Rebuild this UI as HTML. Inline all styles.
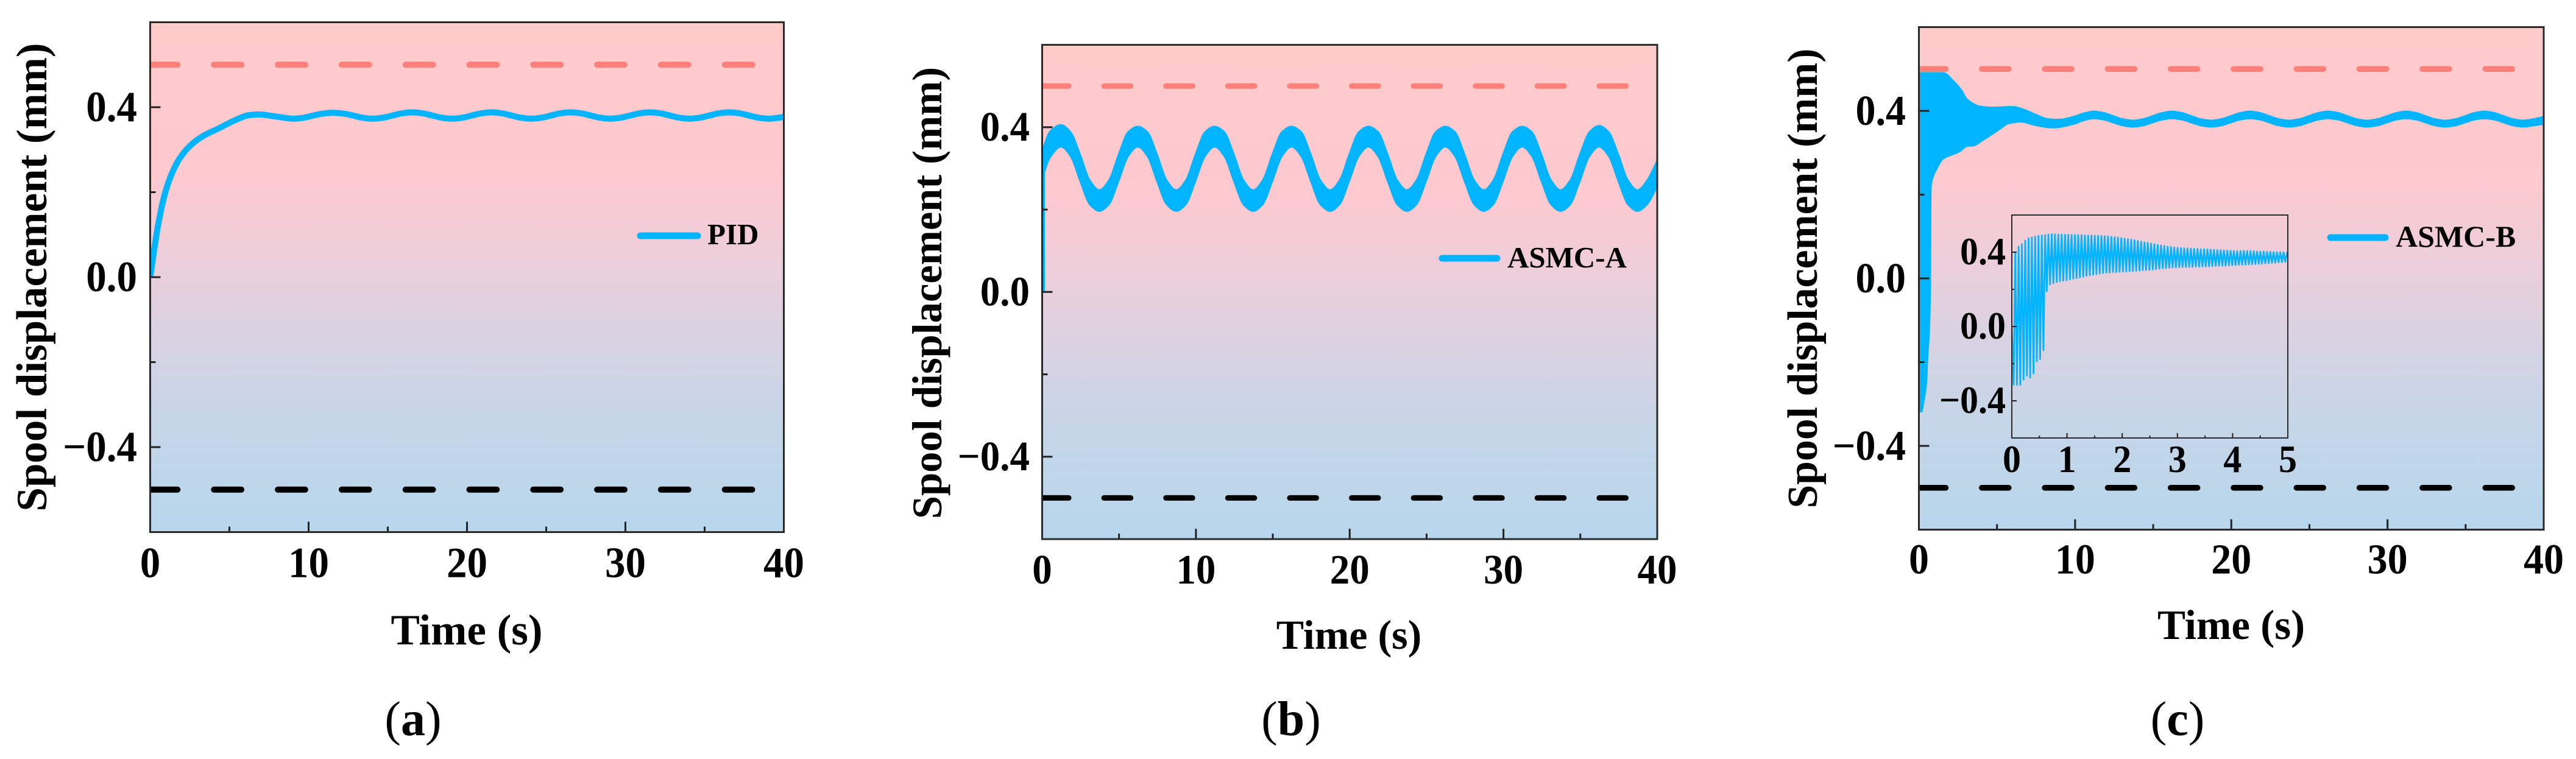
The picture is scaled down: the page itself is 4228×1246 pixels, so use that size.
<!DOCTYPE html>
<html lang="en">
<head>
<meta charset="utf-8">
<title>Spool displacement comparison</title>
<style>
html,body{margin:0;padding:0;background:#fff;}
svg{display:block;}
text{font-family:"Liberation Serif",serif;font-weight:bold;fill:#000;}
</style>
</head>
<body>
<svg id="figure" xmlns="http://www.w3.org/2000/svg" width="4228" height="1246" viewBox="0 0 4228 1246">
  <defs>
    <linearGradient id="plot-bg" x1="0" y1="0" x2="0" y2="1">
      <stop offset="0" stop-color="#ffcaca"/>
      <stop offset="0.3" stop-color="#fec9cf"/>
      <stop offset="0.5" stop-color="#e8cfdc"/>
      <stop offset="0.75" stop-color="#c8d5e7"/>
      <stop offset="1" stop-color="#b7d6ec"/>
    </linearGradient>
    <clipPath id="clip-a"><rect x="246.5" y="36.5" width="1040" height="837"/></clipPath>
    <clipPath id="clip-b"><rect x="1710.5" y="73.6" width="1009.5" height="811.4"/></clipPath>
    <clipPath id="clip-c"><rect x="3149.5" y="44.5" width="1025.5" height="825"/></clipPath>
    <clipPath id="clip-inset"><rect x="3302" y="353" width="453" height="366"/></clipPath>
  </defs>

  <g id="panel-a"></g>
  <g id="panel-b"></g>
  <g id="panel-c"></g>
  <g id="panel-inset"></g>

  <g>
    <text transform="translate(76,455) rotate(-90)" text-anchor="middle" font-size="71">Spool displacement (mm)</text>
    <text x="766" y="1058" text-anchor="middle" font-size="71">Time (s)</text>
    <line x1="1051" y1="387" x2="1145" y2="387" stroke="#00b4ff" stroke-width="11" stroke-linecap="round"/>
    <text x="1161" y="401" font-size="49">PID</text>
    <text x="678" y="1207" text-anchor="middle" font-size="80"><tspan font-weight="normal">(</tspan>a<tspan font-weight="normal">)</tspan></text>
  </g>
  <g>
    <text transform="translate(1545,481) rotate(-90)" text-anchor="middle" font-size="68.5">Spool displacement (mm)</text>
    <text x="2214" y="1065" text-anchor="middle" font-size="68">Time (s)</text>
    <line x1="2367" y1="424" x2="2457" y2="424" stroke="#00b4ff" stroke-width="11" stroke-linecap="round"/>
    <text x="2474" y="439" font-size="49">ASMC-A</text>
    <text x="2119" y="1207" text-anchor="middle" font-size="80"><tspan font-weight="normal">(</tspan>b<tspan font-weight="normal">)</tspan></text>
  </g>
  <g>
    <text transform="translate(2982,457) rotate(-90)" text-anchor="middle" font-size="69.7">Spool displacement (mm)</text>
    <text x="3662" y="1049" text-anchor="middle" font-size="69">Time (s)</text>
    <line x1="3825" y1="390" x2="3915" y2="390" stroke="#00b4ff" stroke-width="11" stroke-linecap="round"/>
    <text x="3932" y="405" font-size="50">ASMC-B</text>
    <text x="3574" y="1207" text-anchor="middle" font-size="80"><tspan font-weight="normal">(</tspan>c<tspan font-weight="normal">)</tspan></text>
  </g>
</svg>

<script>
// ---------- shared axis data ----------
const timeMajor = [0, 10, 20, 30, 40];
const timeLabels = ['0', '10', '20', '30', '40'];
const timeMinor = [5, 15, 25, 35];
const valueMajor = [-0.4, 0, 0.4];
const valueLabels = ['\u22120.4', '0.0', '0.4'];
const valueMinor = [-0.2, 0.2];
const insetTimeMajor = [0, 1, 2, 3, 4, 5];
const insetTimeLabels = ['0', '1', '2', '3', '4', '5'];
const insetTimeMinor = [0.5, 1.5, 2.5, 3.5, 4.5];
const upperLimit = [0.5];
const lowerLimit = [-0.5];

// ---------- panel (a) PID ----------
const pidTime = [0, 0.45, 0.84, 1.29, 1.87, 2.57, 3.33, 4.37, 5.39, 6.2, 6.87, 7.95,
  9.05, 9.675, 10.3, 10.925, 11.55, 12.175, 12.8, 13.425,
  14.05, 14.675, 15.3, 15.925, 16.55, 17.175, 17.8, 18.425,
  19.05, 19.675, 20.3, 20.925, 21.55, 22.175, 22.8, 23.425,
  24.05, 24.675, 25.3, 25.925, 26.55, 27.175, 27.8, 28.425,
  29.05, 29.675, 30.3, 30.925, 31.55, 32.175, 32.8, 33.425,
  34.05, 34.675, 35.3, 35.925, 36.55, 37.175, 37.8, 38.425,
  39.05, 39.675, 40];
const pidValue = [0, 0.112, 0.184, 0.237, 0.28, 0.311, 0.332, 0.351, 0.37, 0.381, 0.383, 0.378,
  0.373, 0.3752, 0.3805, 0.385, 0.387, 0.385, 0.3805, 0.3752,
  0.373, 0.3752, 0.3805, 0.3858, 0.388, 0.3858, 0.3805, 0.3752,
  0.373, 0.3752, 0.3805, 0.3858, 0.388, 0.3858, 0.3805, 0.3752,
  0.373, 0.3752, 0.3805, 0.3858, 0.388, 0.3858, 0.3805, 0.3752,
  0.373, 0.3752, 0.3805, 0.3858, 0.388, 0.3858, 0.3805, 0.3752,
  0.373, 0.3752, 0.3805, 0.3858, 0.388, 0.3858, 0.3805, 0.3752,
  0.373, 0.3752, 0.377];

// ---------- panel (b) ASMC-A: band of the fast oscillation ----------
const asmcAStart = [0, 0.29];
const asmcATime = [0.08, 0.5,
  1.22, 1.845, 2.47, 3.095, 3.72, 4.345, 4.97, 5.595,
  6.22, 6.845, 7.47, 8.095, 8.72, 9.345, 9.97, 10.595,
  11.22, 11.845, 12.47, 13.095, 13.72, 14.345, 14.97, 15.595,
  16.22, 16.845, 17.47, 18.095, 18.72, 19.345, 19.97, 20.595,
  21.22, 21.845, 22.47, 23.095, 23.72, 24.345, 24.97, 25.595,
  26.22, 26.845, 27.47, 28.095, 28.72, 29.345, 29.97, 30.595,
  31.22, 31.845, 32.47, 33.095, 33.72, 34.345, 34.97, 35.595,
  36.22, 36.845, 37.47, 38.095, 38.72, 39.345, 40];
const asmcAUpper = [0.352, 0.39,
  0.406, 0.389, 0.335, 0.272, 0.248, 0.272, 0.335, 0.389,
  0.402, 0.389, 0.335, 0.272, 0.248, 0.272, 0.335, 0.389,
  0.402, 0.389, 0.335, 0.272, 0.248, 0.272, 0.335, 0.389,
  0.402, 0.389, 0.335, 0.272, 0.248, 0.272, 0.335, 0.389,
  0.402, 0.389, 0.335, 0.272, 0.248, 0.272, 0.335, 0.389,
  0.402, 0.389, 0.335, 0.272, 0.248, 0.272, 0.335, 0.389,
  0.402, 0.389, 0.335, 0.272, 0.248, 0.272, 0.335, 0.389,
  0.404, 0.389, 0.335, 0.272, 0.248, 0.272, 0.32];
const asmcALower = [0.283, 0.325,
  0.352, 0.329, 0.268, 0.212, 0.196, 0.212, 0.268, 0.329,
  0.352, 0.329, 0.268, 0.212, 0.196, 0.212, 0.268, 0.329,
  0.352, 0.329, 0.268, 0.212, 0.196, 0.212, 0.268, 0.329,
  0.352, 0.329, 0.268, 0.212, 0.196, 0.212, 0.268, 0.329,
  0.352, 0.329, 0.268, 0.212, 0.196, 0.212, 0.268, 0.329,
  0.352, 0.329, 0.268, 0.212, 0.196, 0.212, 0.268, 0.329,
  0.352, 0.329, 0.268, 0.212, 0.196, 0.212, 0.268, 0.329,
  0.352, 0.329, 0.268, 0.212, 0.196, 0.212, 0.255];

// ---------- panel (c) ASMC-B: envelope ----------
const asmcBUpperTime = [0.03, 1.58, 2.23, 2.75, 3.14, 3.92, 4.7, 6.0, 6.65, 7.43, 8.33, 8.97, 9.9, 10.575,
  11.2, 11.825, 12.45, 13.075, 13.7, 14.325, 14.95, 15.575,
  16.2, 16.825, 17.45, 18.075, 18.7, 19.325, 19.95, 20.575,
  21.2, 21.825, 22.45, 23.075, 23.7, 24.325, 24.95, 25.575,
  26.2, 26.825, 27.45, 28.075, 28.7, 29.325, 29.95, 30.575,
  31.2, 31.825, 32.45, 33.075, 33.7, 34.325, 34.95, 35.575,
  36.2, 36.825, 37.45, 38.075, 38.7, 39.325, 40];
const asmcBUpper = [0.4926, 0.4926, 0.473, 0.451, 0.428, 0.4126, 0.41, 0.4116, 0.406, 0.394, 0.382, 0.381, 0.388, 0.3965,
  0.4005, 0.3973, 0.3897, 0.3821, 0.379, 0.3821, 0.3897, 0.3973,
  0.4005, 0.3973, 0.3897, 0.3821, 0.379, 0.3821, 0.3897, 0.3973,
  0.4005, 0.3973, 0.3897, 0.3821, 0.379, 0.3821, 0.3897, 0.3973,
  0.4005, 0.3973, 0.3897, 0.3821, 0.379, 0.3821, 0.3897, 0.3973,
  0.4005, 0.3973, 0.3897, 0.3821, 0.379, 0.3821, 0.3897, 0.3973,
  0.4005, 0.3973, 0.3897, 0.3821, 0.379, 0.3821, 0.388];
const asmcBLowerTime = [0.02, 0.2, 0.35, 0.53, 0.6, 0.7, 0.78, 0.8, 0.83, 1.2, 1.58, 2.62, 3.14, 3.46, 4.18, 5.2, 5.74, 6.52, 7.43, 8.6, 9.9, 10.575,
  11.2, 11.825, 12.45, 13.075, 13.7, 14.325, 14.95, 15.575,
  16.2, 16.825, 17.45, 18.075, 18.7, 19.325, 19.95, 20.575,
  21.2, 21.825, 22.45, 23.075, 23.7, 24.325, 24.95, 25.575,
  26.2, 26.825, 27.45, 28.075, 28.7, 29.325, 29.95, 30.575,
  31.2, 31.825, 32.45, 33.075, 33.7, 34.325, 34.95, 35.575,
  36.2, 36.825, 37.45, 38.075, 38.7, 39.325, 40];
const asmcBLower = [-0.32, -0.32, -0.295, -0.247, -0.189, -0.13, 0, 0.18, 0.224, 0.262, 0.284, 0.301, 0.3146, 0.315, 0.33, 0.355, 0.368, 0.372, 0.364, 0.358, 0.3665, 0.3755,
  0.38, 0.3771, 0.37, 0.3629, 0.36, 0.3629, 0.37, 0.3771,
  0.38, 0.3771, 0.37, 0.3629, 0.36, 0.3629, 0.37, 0.3771,
  0.38, 0.3771, 0.37, 0.3629, 0.36, 0.3629, 0.37, 0.3771,
  0.38, 0.3771, 0.37, 0.3629, 0.36, 0.3629, 0.37, 0.3771,
  0.38, 0.3771, 0.37, 0.3629, 0.36, 0.3629, 0.37, 0.3771,
  0.38, 0.3771, 0.37, 0.3629, 0.36, 0.3629, 0.367];

// ---------- inset: crest and trough of every oscillation cycle ----------
const insetCycleFirst = [0.033];
const insetCyclePeriod = [0.06];
const insetCrest = [0.4, 0.43, 0.444, 0.462, 0.475, 0.479, 0.484, 0.4875, 0.49, 0.492, 0.495, 0.496, 0.496, 0.495, 0.495, 0.494, 0.494, 0.493, 0.493, 0.492, 0.492, 0.491, 0.49, 0.49, 0.489, 0.488, 0.487, 0.486, 0.485, 0.483, 0.481, 0.479, 0.476, 0.473, 0.47, 0.468, 0.465, 0.461, 0.457, 0.453, 0.45, 0.447, 0.443, 0.44, 0.437, 0.434, 0.431, 0.428, 0.426, 0.424, 0.423, 0.421, 0.42, 0.419, 0.418, 0.417, 0.416, 0.416, 0.415, 0.414, 0.413, 0.412, 0.411, 0.41, 0.409, 0.408, 0.407, 0.406, 0.406, 0.407, 0.407, 0.406, 0.405, 0.404, 0.403, 0.403, 0.402, 0.402, 0.401, 0.4, 0.4, 0.399, 0.398, 0.397];
const insetTrough = [-0.314, -0.314, -0.314, -0.286, -0.265, -0.275, -0.253, -0.187, -0.175, -0.128, 0.19, 0.227, 0.233, 0.24, 0.244, 0.247, 0.249, 0.253, 0.257, 0.26, 0.264, 0.268, 0.273, 0.276, 0.279, 0.282, 0.285, 0.288, 0.29, 0.291, 0.293, 0.293, 0.294, 0.295, 0.296, 0.297, 0.298, 0.3, 0.301, 0.303, 0.304, 0.305, 0.307, 0.309, 0.311, 0.313, 0.314, 0.316, 0.317, 0.318, 0.319, 0.32, 0.32, 0.321, 0.321, 0.322, 0.322, 0.322, 0.323, 0.324, 0.325, 0.326, 0.327, 0.327, 0.328, 0.329, 0.33, 0.331, 0.332, 0.332, 0.333, 0.334, 0.335, 0.336, 0.337, 0.338, 0.34, 0.341, 0.342, 0.343, 0.345, 0.346, 0.348, 0.35];

// ---------- helpers ----------
const SVG_NS = 'http://www.w3.org/2000/svg';
const LINE_BLUE = '#00b4ff';
const TICK_LABEL_STRETCH = 1.06;

function add(parent, tag, attrs) {
  const el = document.createElementNS(SVG_NS, tag);
  for (const k in attrs) el.setAttribute(k, attrs[k]);
  parent.appendChild(el);
  return el;
}
function linearAxis(d0, d1, r0, r1) {
  return v => r0 + (v - d0) * (r1 - r0) / (d1 - d0);
}
function placeLabel(x, y) {
  return 'translate(' + x + ',' + y + ') scale(1,' + TICK_LABEL_STRETCH + ')';
}
// Monotone cubic path through the points; returns segments after the first point.
function monotoneSegments(px, py) {
  const n = px.length, m = [], t = [];
  for (let i = 0; i < n - 1; i++) m.push((py[i + 1] - py[i]) / (px[i + 1] - px[i]));
  t.push(m[0]);
  for (let i = 1; i < n - 1; i++) {
    t.push(m[i - 1] * m[i] <= 0 ? 0 : 2 * m[i - 1] * m[i] / (m[i - 1] + m[i]));
  }
  t.push(m[n - 2]);
  let d = '';
  for (let i = 0; i < n - 1; i++) {
    const h = (px[i + 1] - px[i]) / 3;
    d += 'C' + (px[i] + h).toFixed(2) + ' ' + (py[i] + t[i] * h).toFixed(2) + ' ' +
         (px[i + 1] - h).toFixed(2) + ' ' + (py[i + 1] - t[i + 1] * h).toFixed(2) + ' ' +
         px[i + 1].toFixed(2) + ' ' + py[i + 1].toFixed(2);
  }
  return d;
}
function curvePath(xs, ys, sx, sy) {
  const px = xs.map(sx), py = ys.map(sy);
  return 'M' + px[0].toFixed(2) + ' ' + py[0].toFixed(2) + monotoneSegments(px, py);
}
function bandPath(upT, up, loT, lo, sx, sy) {
  const top = curvePath(upT, up, sx, sy);
  const rx = loT.map(sx).reverse(), ry = lo.map(sy).reverse();
  return top + 'L' + rx[0].toFixed(2) + ' ' + ry[0].toFixed(2) + reversedSegments(rx, ry) + 'Z';
}
function reversedSegments(rx, ry) {
  // x runs right-to-left here; mirror x so tangents stay valid.
  const neg = rx.map(v => -v);
  return monotoneSegments(neg, ry).replace(/C([^C]+)/g, function (_, body) {
    const p = body.split(' ').map(Number);
    return 'C' + (-p[0]).toFixed(2) + ' ' + p[1].toFixed(2) + ' ' + (-p[2]).toFixed(2) + ' ' + p[3].toFixed(2) + ' ' + (-p[4]).toFixed(2) + ' ' + p[5].toFixed(2);
  });
}

function drawPanelBase(g, box, clipId, dash, sx, sy) {
  const bg = add(g, 'rect', {x: box.x0, y: box.y0, width: box.x1 - box.x0, height: box.y1 - box.y0, fill: 'url(#plot-bg)'});
  
  
  const clip = add(g, 'g', {'clip-path': 'url(#' + clipId + ')'});
  
  

  const upperLine = add(clip, 'line', {x1: box.x0, x2: sx(38.2), y1: sy(upperLimit[0]), y2: sy(upperLimit[0]), stroke: '#ff7f7a', 'stroke-width': dash.w, 'stroke-linecap': 'round', 'stroke-dasharray': dash.on + ' ' + dash.off});
  
  
  const lowerLine = add(clip, 'line', {x1: box.x0, x2: sx(38.2), y1: sy(lowerLimit[0]), y2: sy(lowerLimit[0]), stroke: '#000', 'stroke-width': dash.w, 'stroke-linecap': 'round', 'stroke-dasharray': dash.on + ' ' + dash.off});
  
  
  return clip;
}

function drawAxes(g, box, o, sx, sy) {
  o.xMajor.forEach((v, i) => {
    const tick = add(g, 'line', {x1: sx(v), x2: sx(v), y1: box.y1, y2: box.y1 - o.majorLen, stroke: '#222', 'stroke-width': o.tickW});
    
    
    const label = add(g, 'text', {transform: placeLabel(sx(v), box.y1 + o.xLabelDy), 'text-anchor': 'middle', 'font-size': o.font});
    label.textContent = o.xLabels[i];
    
    
  });
  o.xMinor.forEach(v => {
    const tick = add(g, 'line', {x1: sx(v), x2: sx(v), y1: box.y1, y2: box.y1 - o.minorLen, stroke: '#222', 'stroke-width': o.tickW});
    
    
  });
  valueMajor.forEach((v, i) => {
    const tick = add(g, 'line', {x1: box.x0, x2: box.x0 + o.majorLen, y1: sy(v), y2: sy(v), stroke: '#222', 'stroke-width': o.tickW});
    
    
    const label = add(g, 'text', {transform: placeLabel(o.yLabelX, sy(v) + o.yLabelDy), 'text-anchor': 'end', 'font-size': o.font});
    label.textContent = valueLabels[i];
    
    
  });
  valueMinor.forEach(v => {
    const tick = add(g, 'line', {x1: box.x0, x2: box.x0 + o.minorLen, y1: sy(v), y2: sy(v), stroke: '#222', 'stroke-width': o.tickW});
    
    
  });
  const frame = add(g, 'rect', {x: box.x0, y: box.y0, width: box.x1 - box.x0, height: box.y1 - box.y0, fill: 'none', stroke: '#2a2a2a', 'stroke-width': o.frameW});
  
  
}

// ---------- panel (a) ----------
(function () {
  const g = document.getElementById('panel-a');
  const box = {x0: 246.5, x1: 1286.5, y0: 36.5, y1: 873.5};
  const sx = linearAxis(0, 40, box.x0, box.x1);
  const sy = linearAxis(-0.6, 0.6, box.y1, box.y0);
  const clip = drawPanelBase(g, box, 'clip-a', {w: 10, on: 44.8, off: 60}, sx, sy);
  const line = add(clip, 'path', {d: curvePath(pidTime, pidValue, sx, sy), fill: 'none', stroke: LINE_BLUE, 'stroke-width': 10, 'stroke-linejoin': 'round'});
  
  
  drawAxes(g, box, {xMajor: timeMajor, xLabels: timeLabels, xMinor: timeMinor, majorLen: 17, minorLen: 9, tickW: 3, frameW: 3, font: 67, xLabelDy: 74, yLabelX: 225, yLabelDy: 23}, sx, sy);
})();

// ---------- panel (b) ----------
(function () {
  const g = document.getElementById('panel-b');
  const box = {x0: 1710.5, x1: 2720, y0: 73.6, y1: 885};
  const sx = linearAxis(0, 40, box.x0, box.x1);
  const sy = linearAxis(-0.6, 0.6, box.y1, box.y0);
  const clip = drawPanelBase(g, box, 'clip-b', {w: 9, on: 43.6, off: 58}, sx, sy);
  const rise = add(clip, 'line', {x1: sx(0.08), x2: sx(0.08), y1: sy(asmcAStart[0]), y2: sy(asmcAStart[1]), stroke: LINE_BLUE, 'stroke-width': 5});
  
  
  const band = add(clip, 'path', {d: bandPath(asmcATime, asmcAUpper, asmcATime, asmcALower, sx, sy), fill: LINE_BLUE, stroke: LINE_BLUE, 'stroke-width': 2, 'stroke-linejoin': 'round'});
  
  
  drawAxes(g, box, {xMajor: timeMajor, xLabels: timeLabels, xMinor: timeMinor, majorLen: 17, minorLen: 9, tickW: 3, frameW: 3, font: 65, xLabelDy: 73, yLabelX: 1690, yLabelDy: 22}, sx, sy);
})();

// ---------- panel (c) ----------
(function () {
  const g = document.getElementById('panel-c');
  const box = {x0: 3149.5, x1: 4175, y0: 44.5, y1: 869.5};
  const sx = linearAxis(0, 40, box.x0, box.x1);
  const sy = linearAxis(-0.6, 0.6, box.y1, box.y0);
  const clip = drawPanelBase(g, box, 'clip-c', {w: 9.5, on: 44, off: 59.3}, sx, sy);
  const band = add(clip, 'path', {d: bandPath(asmcBUpperTime, asmcBUpper, asmcBLowerTime, asmcBLower, sx, sy), fill: LINE_BLUE});
  
  
  drawAxes(g, box, {xMajor: timeMajor, xLabels: timeLabels, xMinor: timeMinor, majorLen: 17, minorLen: 9, tickW: 3, frameW: 3, font: 66, xLabelDy: 72, yLabelX: 3128, yLabelDy: 23}, sx, sy);
})();

// ---------- inset ----------
(function () {
  const g = document.getElementById('panel-inset');
  const box = {x0: 3302, x1: 3755, y0: 353, y1: 719};
  const sx = linearAxis(0, 5, box.x0, box.x1);
  const sy = linearAxis(-0.6, 0.6, box.y1, box.y0);
  const clip = add(g, 'g', {'clip-path': 'url(#clip-inset)'});
  
  
  let pts = sx(0).toFixed(2) + ',' + sy(0).toFixed(2);
  insetCrest.forEach((crest, i) => {
    const t = insetCycleFirst[0] + insetCyclePeriod[0] * i;
    pts += ' ' + sx(t).toFixed(2) + ',' + sy(insetTrough[i]).toFixed(2);
    pts += ' ' + sx(t + insetCyclePeriod[0] / 2).toFixed(2) + ',' + sy(crest).toFixed(2);
  });
  const line = add(clip, 'polyline', {points: pts, fill: 'none', stroke: LINE_BLUE, 'stroke-width': 2.7, 'stroke-linejoin': 'round'});
  
  
  drawAxes(g, box, {xMajor: insetTimeMajor, xLabels: insetTimeLabels, xMinor: insetTimeMinor, majorLen: 8, minorLen: 4, tickW: 2, frameW: 2, font: 60, xLabelDy: 56, yLabelX: 3292, yLabelDy: 20}, sx, sy);
})();
</script>
</body>
</html>
